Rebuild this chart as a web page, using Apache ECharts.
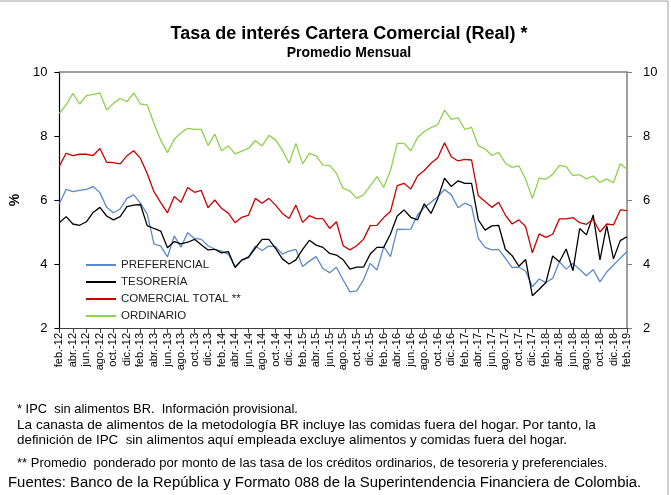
<!DOCTYPE html>
<html lang="es">
<head>
    <meta charset="UTF-8">
    <title>Tasa de interés Cartera Comercial</title>
    <style>
        html, body { margin: 0; padding: 0; background: #fff; }
        #chart1 { width: 671px; height: 495px; }
    </style>
</head>
<body>
<div id="chart1"></div>

<script type="text/javascript" src="https://cdn.jsdelivr.net/npm/echarts@6/dist/echarts.min.js"></script>
<script type="text/javascript">
    // meses feb-12 .. feb-19
    var monthNames = ['ene.', 'feb.', 'mar.', 'abr.', 'may.', 'jun.', 'jul.', 'ago.', 'sep.', 'oct.', 'nov.', 'dic.'];
    var categories = [];
    for (var k = 1; k <= 85; k++) {
        var yy = 12 + Math.floor(k / 12);
        categories.push(monthNames[k % 12] + '-' + yy);
    }

    var yTicks = [2, 4, 6, 8, 10];

    var preferencial = [5.88,6.33,6.26,6.30,6.33,6.42,6.23,5.77,5.60,5.72,6.05,6.16,5.90,5.56,
        4.63,4.56,4.22,4.88,4.53,4.98,4.80,4.77,4.57,4.46,4.40,4.31,3.92,4.13,
        4.23,4.56,4.42,4.56,4.54,4.31,4.40,4.46,3.92,4.09,4.23,3.86,3.73,3.90,
        3.50,3.13,3.16,3.50,4.02,3.81,4.54,4.23,5.09,5.08,5.09,5.53,5.77,5.93,
        6.10,6.33,6.16,5.76,5.90,5.81,4.80,4.52,4.44,4.46,4.18,3.89,3.90,3.78,
        3.29,3.53,3.42,3.55,4.07,3.84,4.02,3.83,3.63,3.83,3.44,3.75,3.97,4.18,4.39];

    var tesoreria = [5.29,5.48,5.25,5.21,5.32,5.61,5.77,5.50,5.38,5.48,5.79,5.84,5.86,5.20,
        5.11,5.03,4.51,4.70,4.63,4.68,4.77,4.60,4.44,4.46,4.35,4.39,3.89,4.12,
        4.21,4.50,4.77,4.77,4.49,4.16,4.00,4.13,4.46,4.74,4.59,4.52,4.33,4.28,
        4.13,3.84,3.90,3.90,4.31,4.52,4.52,4.94,5.50,5.69,5.46,5.38,5.88,5.58,
        6.05,6.68,6.42,6.60,6.52,6.52,5.38,5.06,5.19,5.21,4.46,4.26,3.93,4.14,
        3.01,3.21,3.42,4.25,4.07,4.47,3.79,5.11,4.91,5.53,4.13,5.20,4.16,4.73,4.85];

    var comercialTotal = [7.06,7.46,7.39,7.43,7.43,7.39,7.61,7.18,7.17,7.13,7.38,7.54,7.30,6.83,
        6.26,5.92,5.60,6.11,5.93,6.39,6.24,6.30,5.76,6.00,5.74,5.59,5.29,5.46,
        5.53,6.05,5.90,6.05,5.84,5.58,5.42,5.84,5.30,5.51,5.42,5.42,5.11,5.32,
        4.57,4.44,4.57,4.77,5.20,5.21,5.45,5.64,6.45,6.52,6.34,6.75,6.92,7.15,
        7.32,7.79,7.35,7.22,7.27,7.25,6.13,5.95,5.77,5.93,5.53,5.25,5.38,5.17,
        4.35,4.94,4.83,4.93,5.41,5.41,5.45,5.29,5.24,5.40,5.00,5.25,5.22,5.69,5.67];

    var ordinario = [8.71,8.97,9.33,9.00,9.26,9.30,9.35,8.81,9.02,9.18,9.07,9.35,9.00,8.97,
        8.40,7.87,7.48,7.90,8.10,8.24,8.21,8.21,7.70,8.06,7.54,7.69,7.44,7.53,
        7.61,7.86,7.69,8.02,7.88,7.56,7.15,7.77,7.13,7.46,7.38,7.09,7.08,6.83,
        6.36,6.28,6.05,6.16,6.44,6.73,6.39,6.92,7.77,7.77,7.54,7.95,8.14,8.26,
        8.36,8.81,8.52,8.57,8.21,8.27,7.69,7.60,7.39,7.49,7.15,7.02,7.07,6.65,
        6.05,6.68,6.65,6.80,7.08,7.04,6.76,6.79,6.66,6.75,6.55,6.66,6.54,7.13,6.96];

    var seriesNames = ['PREFERENCIAL', 'TESORERÍA', 'COMERCIAL TOTAL **', 'ORDINARIO'];
    var seriesColors = ['#5a8acb', '#000000', '#cc0000', '#8fd04e'];
    var seriesData = [preferencial, tesoreria, comercialTotal, ordinario];

    var notas = [
        '* IPC  sin alimentos BR.  Información provisional.',
        'La canasta de alimentos de la metodología BR incluye las comidas fuera del hogar. Por tanto, la',
        'definición de IPC  sin alimentos aquí empleada excluye alimentos y comidas fuera del hogar.',
        '** Promedio  ponderado por monto de las tasa de los créditos ordinarios, de tesoreria y preferenciales.'
    ];
    var fuente = 'Fuentes: Banco de la República y Formato 088 de la Superintendencia Financiera de Colombia.';

    var font = 'Liberation Sans, Arial, sans-serif';

    var myChart1 = echarts.init(document.getElementById('chart1'), null, {renderer: 'canvas'});

    var series = seriesNames.map(function (n, i) {
        return {
            name: n,
            type: 'line',
            data: seriesData[i],
            showSymbol: false,
            symbol: 'none',
            lineStyle: {color: seriesColors[i], width: 1.3},
            itemStyle: {color: seriesColors[i]},
            animation: false
        };
    });

    var yAxisCommon = {
        type: 'value',
        min: 2,
        max: 10,
        interval: 2,
        splitLine: {show: false},
        axisTick: {show: true, inside: false, length: 5},
        axisLabel: {fontFamily: font, fontSize: 13, color: '#000'}
    };

    myChart1.setOption({
        backgroundColor: '#fff',
        animation: false,
        title: [
            {
                text: 'Tasa de interés Cartera Comercial (Real) *',
                left: 344, top: 20, textAlign: 'center',
                textStyle: {fontFamily: font, fontSize: 18, fontWeight: 'bold', color: '#000'}
            },
            {
                text: 'Promedio Mensual',
                left: 344, top: 41, textAlign: 'center',
                textStyle: {fontFamily: font, fontSize: 14, fontWeight: 'bold', color: '#000'}
            }
        ],
        legend: {
            orient: 'vertical',
            left: 86,
            top: 259,
            padding: 0,
            itemWidth: 30,
            itemHeight: 2,
            itemGap: 5,
            icon: 'rect',
            data: seriesNames,
            textStyle: {fontFamily: font, fontSize: 11.5, color: '#222'}
        },
        grid: {left: 52, right: 44, top: 72, bottom: 167, containLabel: false},
        xAxis: [
            {
                type: 'category',
                data: categories,
                boundaryGap: false,
                axisLine: {lineStyle: {color: '#404040', width: 1}},
                axisTick: {show: true, interval: 1, length: 5, lineStyle: {color: '#404040'}},
                axisLabel: {interval: 1, rotate: 90, margin: 5, fontFamily: font, fontSize: 11, color: '#000'}
            },
            {
                type: 'category',
                data: categories,
                position: 'top',
                boundaryGap: false,
                axisLine: {lineStyle: {color: '#808080', width: 1.5}},
                axisTick: {show: false},
                axisLabel: {show: false}
            }
        ],
        yAxis: [
            echarts.util.merge({
                position: 'left',
                name: '%',
                nameLocation: 'middle',
                nameGap: 33,
                nameRotate: 90,
                nameTextStyle: {fontFamily: font, fontSize: 14, fontWeight: 'bold', color: '#000'},
                axisLine: {show: true, lineStyle: {color: '#000', width: 1.2}},
                axisLabel: {margin: 12}
            }, yAxisCommon, false),
            echarts.util.merge({
                position: 'right',
                axisLine: {show: true, lineStyle: {color: '#808080', width: 1.5}},
                axisTick: {lineStyle: {color: '#808080'}},
                axisLabel: {margin: 16}
            }, yAxisCommon, false)
        ],
        series: series,
        graphic: [
            {
                type: 'rect',
                shape: {x: -2, y: 1, width: 670, height: 500},
                style: {fill: 'none', stroke: '#a0a0a0', lineWidth: 1},
                silent: true
            },
            {
                type: 'text', left: 17, top: 403,
                style: {text: notas[0], font: '12.9px ' + font, fill: '#000'}
            },
            {
                type: 'text', left: 17, top: 418,
                style: {text: notas[1], font: '13.6px ' + font, fill: '#000'}
            },
            {
                type: 'text', left: 17, top: 434,
                style: {text: notas[2], font: '13.4px ' + font, fill: '#000'}
            },
            {
                type: 'text', left: 17, top: 457,
                style: {text: notas[3], font: '13px ' + font, fill: '#000'}
            },
            {
                type: 'text', left: 8, top: 475,
                style: {text: fuente, font: '14.9px ' + font, fill: '#000'}
            }
        ]
    });
</script>
</body>
</html>
